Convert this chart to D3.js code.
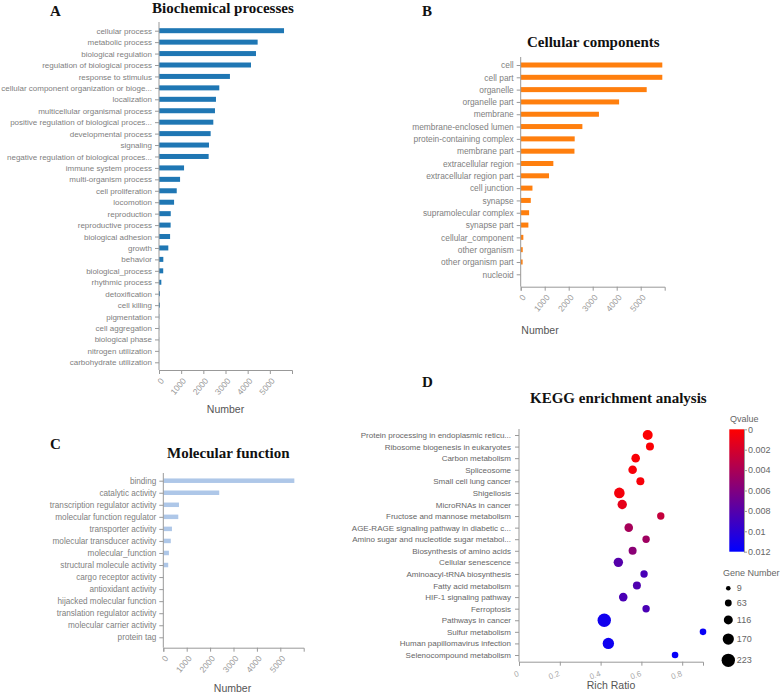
<!DOCTYPE html>
<html>
<head>
<meta charset="utf-8">
<script src="https://cdn.jsdelivr.net/npm/d3@7"></script>
<style>
	body { margin: 0; background: #fff; }
	svg { display: block; }
	text { font-family: "Liberation Sans", Arial, sans-serif; }
	.title { font-family: "Liberation Serif", "Times New Roman", serif; font-weight: bold; fill: #111; }
</style>
</head>
<body>
<svg id="chart" width="784" height="697"></svg>
<script>
// A - biological process
const bpNames = ['cellular process', 'metabolic process', 'biological regulation', 'regulation of biological process',
	'response to stimulus', 'cellular component organization or bioge...', 'localization', 'multicellular organismal process',
	'positive regulation of biological proces...', 'developmental process', 'signaling', 'negative regulation of biological proces...',
	'immune system process', 'multi-organism process', 'cell proliferation', 'locomotion', 'reproduction', 'reproductive process',
	'biological adhesion', 'growth', 'behavior', 'biological_process', 'rhythmic process', 'detoxification', 'cell killing',
	'pigmentation', 'cell aggregation', 'biological phase', 'nitrogen utilization', 'carbohydrate utilization'];
const bpCounts = [5640, 4450, 4375, 4150, 3200, 2720, 2570, 2525, 2450, 2330, 2255, 2240,
	1130, 950, 800, 680, 530, 525, 500, 420, 195, 190, 105, 45, 40, 12, 8, 6, 4, 3];

// B - cellular component
const ccNames = ['cell', 'cell part', 'organelle', 'organelle part', 'membrane', 'membrane-enclosed lumen',
	'protein-containing complex', 'membrane part', 'extracellular region', 'extracellular region part', 'cell junction',
	'synapse', 'supramolecular complex', 'synapse part', 'cellular_component', 'other organism', 'other organism part', 'nucleoid'];
const ccCounts = [5900, 5900, 5250, 4100, 3260, 2570, 2250, 2240, 1360, 1180, 490, 420, 350, 320, 110, 85, 80, 5];

// C - molecular function
const mfNames = ['binding', 'catalytic activity', 'transcription regulator activity', 'molecular function regulator',
	'transporter activity', 'molecular transducer activity', 'molecular_function', 'structural molecule activity',
	'cargo receptor activity', 'antioxidant activity', 'hijacked molecular function', 'translation regulator activity',
	'molecular carrier activity', 'protein tag'];
const mfCounts = [5600, 2390, 670, 640, 370, 320, 240, 210, 15, 12, 8, 6, 4, 3];

const countTicks = [0, 1000, 2000, 3000, 4000, 5000];

// D - KEGG
const keggNames = ['Protein processing in endoplasmic reticu...', 'Ribosome biogenesis in eukaryotes', 'Carbon metabolism',
	'Spliceosome', 'Small cell lung cancer', 'Shigellosis', 'MicroRNAs in cancer', 'Fructose and mannose metabolism',
	'AGE-RAGE signaling pathway in diabetic c...', 'Amino sugar and nucleotide sugar metabol...', 'Biosynthesis of amino acids',
	'Cellular senescence', 'Aminoacyl-tRNA biosynthesis', 'Fatty acid metabolism', 'HIF-1 signaling pathway', 'Ferroptosis',
	'Pathways in cancer', 'Sulfur metabolism', 'Human papillomavirus infection', 'Selenocompound metabolism'];
const keggRatio = [0.631, 0.642, 0.572, 0.557, 0.595, 0.492, 0.506, 0.695, 0.538, 0.623,
	0.557, 0.487, 0.613, 0.578, 0.511, 0.623, 0.418, 0.902, 0.438, 0.765];
const keggGenes = [140, 92, 106, 106, 92, 155, 126, 77, 106, 77,
	92, 126, 77, 92, 106, 77, 223, 58, 174, 58];
const keggQ = [0.0001, 0.0002, 0.0003, 0.0004, 0.0004, 0.0005, 0.0012, 0.0028, 0.0042, 0.0045,
	0.0055, 0.008, 0.0086, 0.0083, 0.0085, 0.0085, 0.0112, 0.0116, 0.0113, 0.0117];
const qTicks = [0, 0.002, 0.004, 0.006, 0.008, 0.01, 0.012];
const geneLegend = [9, 63, 116, 170, 223];
const ratioTicks = [0, 0.2, 0.4, 0.6, 0.8];

const svg = d3.select('#chart');
svg.append('rect').attr('width', 784).attr('height', 697).attr('fill', '#fff');

const axisColor = '#999';

function drawBars (kw) {
	const { names, counts, color, x0, x1, yTop, yBottom, c0, c1, barH, fontSize, numberX, numberY } = kw;
	const x = d3.scaleLinear().domain([0, 6000]).range([x0, x1]);
	const y = d3.scalePoint().domain(names).range([c0, c1]);
	const g = svg.append('g');

	g.selectAll('rect.bar')
		.data(names)
		.join('rect')
		.attr('class', 'bar')
		.attr('x', x(0))
		.attr('y', d => y(d) - barH / 2)
		.attr('width', (d, i) => Math.max(0, x(counts[i]) - x(0)))
		.attr('height', barH)
		.attr('fill', color);

	const ya = g.append('g')
		.attr('transform', `translate(${x0},0)`)
		.call(d3.axisLeft(y).tickSize(4).tickPadding(3));
	ya.select('.domain').remove();
	ya.selectAll('line').attr('stroke', axisColor);
	ya.selectAll('text').style('font-size', fontSize + 'px').attr('fill', '#808080');
	g.append('line')
		.attr('x1', x0).attr('x2', x0)
		.attr('y1', yTop).attr('y2', yBottom)
		.attr('stroke', axisColor);

	const xa = g.append('g')
		.attr('transform', `translate(0,${yBottom})`)
		.call(d3.axisBottom(x).tickValues(countTicks).tickFormat(d3.format('d')).tickSize(4).tickSizeOuter(4));
	xa.select('.domain').attr('stroke', axisColor);
	xa.selectAll('line').attr('stroke', axisColor);
	xa.selectAll('text')
		.attr('x', 0).attr('y', 0).attr('dy', 0)
		.attr('text-anchor', 'end')
		.attr('transform', 'translate(5,11) rotate(-50)')
		.style('font-size', '8.5px')
		.attr('fill', '#999');

	g.append('text')
		.attr('x', numberX).attr('y', numberY)
		.attr('text-anchor', 'middle')
		.style('font-size', '10.5px')
		.attr('fill', '#555')
		.text('Number');
}

function heading (label, lx, ly, title, tx, ty) {
	svg.append('text').attr('class', 'title').attr('x', lx).attr('y', ly).style('font-size', '15px').text(label);
	svg.append('text').attr('class', 'title').attr('x', tx).attr('y', ty).style('font-size', '15px').text(title);
}

// A
heading('A', 50, 16, 'Biochemical processes', 152, 12.5);
drawBars({ names: bpNames, counts: bpCounts, color: '#1f77b4', x0: 159, x1: 292, yTop: 22, yBottom: 370,
	c0: 30.7, c1: 362.3, barH: 5, fontSize: 8, numberX: 225.5, numberY: 413 });

// B
heading('B', 422, 16, 'Cellular components', 527, 47);
drawBars({ names: ccNames, counts: ccCounts, color: '#ff7f0e', x0: 520.7, x1: 664.7, yTop: 57, yBottom: 286.7,
	c0: 65, c1: 274.3, barH: 5, fontSize: 8.4, numberX: 540, numberY: 334 });

// C
heading('C', 50, 449, 'Molecular function', 167, 458);
drawBars({ names: mfNames, counts: mfCounts, color: '#aec7e8', x0: 163.3, x1: 303.7, yTop: 473, yBottom: 647.7,
	c0: 480.7, c1: 637.3, barH: 4.5, fontSize: 8.2, numberX: 232.5, numberY: 692 });

// D
heading('D', 422, 387, 'KEGG enrichment analysis', 530, 403);

const dx = d3.scaleLinear().domain([0, d3.max(keggRatio)]).range([519, 703]);
const dy = d3.scalePoint().domain(keggNames).range([435, 655]);
const rScale = d3.scaleLinear().domain([9, 223]).range([2.3, 6.7]);
const qColor = d3.scaleLinear().domain([0, 0.012]).range(['#ff0000', '#0000ff']).interpolate(d3.interpolateRgb);

const gd = svg.append('g');
const dya = gd.append('g')
	.attr('transform', 'translate(519,0)')
	.call(d3.axisLeft(dy).tickSize(4).tickPadding(4));
dya.select('.domain').remove();
dya.selectAll('line').attr('stroke', axisColor);
dya.selectAll('text').style('font-size', '8px').attr('fill', '#666');
gd.append('line').attr('x1', 519).attr('x2', 519).attr('y1', 429).attr('y2', 661.7).attr('stroke', axisColor);

const dxa = gd.append('g')
	.attr('transform', 'translate(0,661.7)')
	.call(d3.axisBottom(dx).tickValues(ratioTicks).tickFormat(d => d === 0 ? '0' : d3.format('.1f')(d)).tickSize(4).tickSizeOuter(4));
dxa.select('.domain').attr('stroke', axisColor);
dxa.selectAll('line').attr('stroke', axisColor);
dxa.selectAll('text')
	.attr('x', 0).attr('y', 0).attr('dy', 0)
	.attr('text-anchor', 'end')
	.attr('transform', 'translate(0,14) rotate(-20)')
	.style('font-size', '8px')
	.attr('fill', '#aaa');

gd.append('text')
	.attr('x', 611).attr('y', 689)
	.attr('text-anchor', 'middle')
	.style('font-size', '10.5px')
	.attr('fill', '#555')
	.text('Rich Ratio');

gd.selectAll('circle.pt')
	.data(keggNames)
	.join('circle')
	.attr('class', 'pt')
	.attr('cx', (d, i) => dx(keggRatio[i]))
	.attr('cy', d => dy(d))
	.attr('r', (d, i) => rScale(keggGenes[i]))
	.attr('fill', (d, i) => qColor(keggQ[i]));

// Qvalue colour bar
const qy = d3.scaleLinear().domain([0, 0.012]).range([429.3, 551.7]);
const grad = svg.append('defs').append('linearGradient')
	.attr('id', 'qgrad').attr('x1', 0).attr('x2', 0).attr('y1', 0).attr('y2', 1);
grad.selectAll('stop')
	.data(d3.range(0, 1.0001, 0.1))
	.join('stop')
	.attr('offset', d => d)
	.attr('stop-color', d => qColor(d * 0.012));
svg.append('rect')
	.attr('x', 729.3).attr('y', qy(0))
	.attr('width', 14.7).attr('height', qy(0.012) - qy(0))
	.attr('fill', 'url(#qgrad)');
const qa = svg.append('g')
	.attr('transform', 'translate(744,0)')
	.call(d3.axisRight(qy).tickValues(qTicks).tickFormat(d => String(+d.toFixed(3))).tickSize(3).tickSizeOuter(0).tickPadding(1));
qa.select('.domain').attr('stroke', axisColor);
qa.selectAll('line').attr('stroke', axisColor);
qa.selectAll('text').style('font-size', '9px').attr('fill', '#666');
svg.append('text').attr('x', 730).attr('y', 422).style('font-size', '9px').attr('fill', '#666').text('Qvalue');

// Gene number legend
svg.append('text').attr('x', 723).attr('y', 576).style('font-size', '9px').attr('fill', '#666').text('Gene Number');
const legY = [];
geneLegend.forEach((v, i) => {
	if (i === 0) legY.push(588.3);
	else legY.push(legY[i - 1] + rScale(geneLegend[i - 1]) + rScale(v) + 9);
});
const leg = svg.append('g').selectAll('g').data(geneLegend).join('g')
	.attr('transform', (d, i) => `translate(728.3,${legY[i]})`);
leg.append('circle').attr('r', d => rScale(d)).attr('fill', '#000');
leg.append('text').attr('x', 8.5).attr('dy', '0.35em')
	.style('font-size', '9px').attr('fill', '#666').text(d => d);
</script>
</body>
</html>
